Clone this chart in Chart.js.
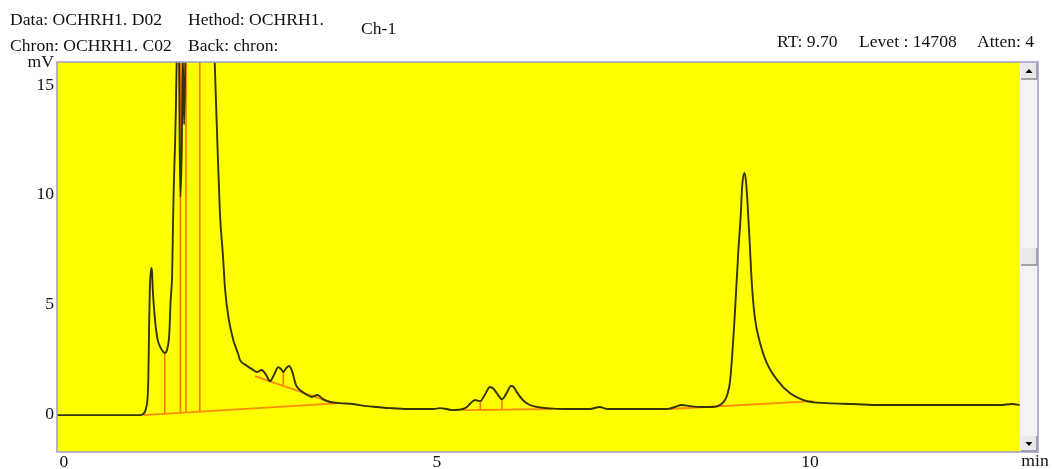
<!DOCTYPE html>
<html>
<head>
<meta charset="utf-8">
<script src="https://cdn.jsdelivr.net/npm/chart.js@4"></script>
<style>
  html, body { margin: 0; padding: 0; background: #fff; }
</style>
</head>
<body>
<canvas id="chrom" width="1052" height="469"></canvas>
<script>
// Detector trace (time in min, signal in mV)
const traceTime = [
  -0.09, 0.5, 1.02, 1.06, 1.10, 1.13, 1.14, 1.15, 1.17, 1.18, 1.19, 1.22, 1.25, 1.29,
  1.33, 1.35, 1.38, 1.41, 1.43, 1.45, 1.46, 1.47, 1.49, 1.50, 1.51, 1.53, 1.54, 1.55,
  1.56, 1.58, 1.59, 1.61, 1.63, 1.70, 1.82, 1.95, 1.99, 2.02, 2.05, 2.09, 2.13, 2.16,
  2.21, 2.27, 2.33, 2.36, 2.44, 2.52, 2.59, 2.65, 2.71, 2.76, 2.82, 2.87, 2.91, 2.94,
  2.98, 3.02, 3.06, 3.11, 3.18, 3.24, 3.32, 3.40, 3.47, 3.57, 3.70, 3.87, 4.06, 4.20,
  4.37, 4.60, 4.77, 4.95, 5.04, 5.13, 5.21, 5.35, 5.40, 5.44, 5.51, 5.58, 5.64, 5.71,
  5.76, 5.80, 5.87, 5.94, 5.99, 6.03, 6.07, 6.15, 6.22, 6.29, 6.47, 6.74, 7.05, 7.18,
  7.29, 7.72, 8.08, 8.19, 8.28, 8.39, 8.53, 8.69, 8.79, 8.85, 8.89, 8.93, 8.99, 9.04,
  9.07, 9.09, 9.12, 9.14, 9.16, 9.19, 9.22, 9.26, 9.33, 9.42, 9.56, 9.73,
  9.96, 10.23, 10.58, 10.94, 11.74, 12.55, 12.71, 12.81
];
const traceMv = [
  -0.05, -0.05, -0.05, 0.00, 0.27, 1.55, 3.83, 5.65, 6.66, 6.48, 5.65, 4.29, 3.47, 3.06,
  2.83, 2.78, 2.92, 3.60, 5.20, 6.43, 8.39, 10.21, 12.49, 14.0, 16.05, 18.0, 17.5, 12.5,
  9.9, 12.5, 16.5, 13.2, 17.0, 30.0, 20.0, 30.0, 20.0, 16.05, 12.95, 9.17, 7.25, 5.65,
  4.29, 3.37, 2.78, 2.46, 2.23, 2.05, 1.92, 2.01, 1.78, 1.50, 1.82, 2.14, 2.05, 1.92,
  2.10, 2.19, 1.92, 1.32, 1.05, 0.91, 0.78, 0.87, 0.68, 0.55, 0.50, 0.46, 0.36, 0.32,
  0.27, 0.23, 0.23, 0.23, 0.27, 0.23, 0.18, 0.23, 0.32, 0.46, 0.64, 0.59, 0.87, 1.23,
  1.14, 0.96, 0.68, 1.00, 1.28, 1.23, 1.00, 0.64, 0.46, 0.36, 0.27, 0.23, 0.23, 0.32,
  0.23, 0.23, 0.23, 0.32, 0.41, 0.36, 0.32, 0.32, 0.41, 0.59, 0.87, 1.55, 4.42, 7.48,
  8.98, 10.35, 10.99, 10.67, 9.76, 7.93, 5.97, 4.42, 3.24, 2.33, 1.55, 0.96,
  0.59, 0.50, 0.46, 0.41, 0.41, 0.41, 0.46, 0.41
];

// Integration baselines: start/end time and level
const baseStartTime = [1.06, 2.56, 5.35, 8.12];
const baseStartMv   = [-0.05, 1.73, 0.18, 0.23];
const baseEndTime   = [3.70, 3.61, 6.55, 10.04];
const baseEndMv     = [0.50, 0.50, 0.23, 0.59];

// Peak drop lines
const dropTime   = [1.35, 1.56, 1.635, 1.82, 2.94, 5.58, 5.87];
const dropTopMv  = [2.78, 16.1, 16.1, 16.1, 1.92, 0.59, 0.68];
const dropBaseMv = [0.01, 0.05, 0.07, 0.11, 1.29, 0.20, 0.21];

const xTicks = [0, 5, 10];
const yTicks = [0, 5, 10, 15];

const header = [
  ['Data: OCHRH1. D02', 10, 20],
  ['Chron: OCHRH1. C02', 10, 46],
  ['Hethod: OCHRH1.', 188, 20],
  ['Back: chron:', 188, 46],
  ['Ch-1', 361, 29],
  ['RT: 9.70', 777, 42],
  ['Levet : 14708', 859, 42],
  ['Atten: 4', 977, 42]
];

const FONT = '"Liberation Serif", "Times New Roman", serif';

// build segment lists, null breaks the line between pieces
const traceData = traceTime.map((t, i) => ({x: t, y: traceMv[i]}));
const baseData = [];
baseStartTime.forEach((t, i) => {
  baseData.push({x: t, y: baseStartMv[i]}, {x: baseEndTime[i], y: baseEndMv[i]}, {x: baseEndTime[i], y: null});
});
const dropData = [];
dropTime.forEach((t, i) => {
  dropData.push({x: t, y: dropBaseMv[i]}, {x: t, y: dropTopMv[i]}, {x: t, y: null});
});

const decorations = {
  id: 'decorations',
  beforeDraw(chart) {
    const {ctx, chartArea: a} = chart;
    ctx.save();
    ctx.fillStyle = '#ffff00';
    ctx.fillRect(a.left, a.top, a.right - a.left, a.bottom - a.top);
    ctx.restore();
  },
  afterDraw(chart) {
    const {ctx, chartArea: a} = chart;
    const sbL = a.right, sbR = a.right + 18;
    ctx.save();

    // scrollbar
    ctx.fillStyle = '#f3f3f3';
    ctx.fillRect(sbL, a.top, sbR - sbL, a.bottom - a.top);
    const button = (y0, y1) => {
      ctx.fillStyle = '#e9e9e9';
      ctx.fillRect(sbL + 1, y0, sbR - sbL - 2, y1 - y0);
      ctx.strokeStyle = '#8a8a8a';
      ctx.lineWidth = 1.5;
      ctx.beginPath();
      ctx.moveTo(sbL + 1, y1);
      ctx.lineTo(sbR - 1, y1);
      ctx.lineTo(sbR - 1, y0);
      ctx.stroke();
    };
    button(a.top + 1, a.top + 17);
    button(248, 265);
    button(a.bottom - 16, a.bottom - 1);
    const cx = (sbL + sbR) / 2;
    ctx.fillStyle = '#000';
    ctx.beginPath();
    ctx.moveTo(cx - 3.5, a.top + 11); ctx.lineTo(cx + 3.5, a.top + 11); ctx.lineTo(cx, a.top + 7);
    ctx.fill();
    ctx.beginPath();
    ctx.moveTo(cx - 3.5, a.bottom - 10); ctx.lineTo(cx + 3.5, a.bottom - 10); ctx.lineTo(cx, a.bottom - 6);
    ctx.fill();

    // frame
    ctx.strokeStyle = '#9c9ccc';
    ctx.lineWidth = 1.5;
    ctx.strokeRect(a.left, a.top, sbR - a.left, a.bottom - a.top);

    // texts
    ctx.fillStyle = '#111';
    ctx.font = '17.6px ' + FONT;
    ctx.textBaseline = 'middle';
    ctx.textAlign = 'left';
    header.forEach(([txt, x, y]) => ctx.fillText(txt, x, y));
    ctx.textAlign = 'right';
    ctx.fillText('mV', 54, 62);
    ctx.textAlign = 'center';
    ctx.fillText('min', 1035, 461);
    ctx.restore();
  }
};

new Chart(document.getElementById('chrom'), {
  type: 'line',
  data: {
    datasets: [
      {
        data: dropData,
        borderColor: '#ff7400',
        borderWidth: 1.6,
        pointRadius: 0,
        spanGaps: false,
        order: 2
      },
      {
        data: baseData,
        borderColor: '#ff8a00',
        borderWidth: 1.8,
        pointRadius: 0,
        spanGaps: false,
        order: 1
      },
      {
        data: traceData,
        borderColor: '#34340a',
        borderWidth: 1.9,
        pointRadius: 0,
        cubicInterpolationMode: 'monotone',
        order: 0
      }
    ]
  },
  options: {
    responsive: false,
    animation: false,
    events: [],
    layout: { padding: { top: 62, right: 32, left: 0, bottom: 0 } },
    plugins: { legend: { display: false }, tooltip: { enabled: false } },
    scales: {
      x: {
        type: 'linear',
        min: -0.094,
        max: 12.815,
        grid: { display: false, drawTicks: false },
        border: { display: false },
        afterFit: s => { s.height = 17; },
        afterBuildTicks: s => { s.ticks = xTicks.map(v => ({value: v})); },
        ticks: { color: '#111', padding: 0, maxRotation: 0, font: { family: FONT, size: 17.6 } }
      },
      y: {
        min: -1.73,
        max: 16.05,
        grid: { display: false, drawTicks: false },
        border: { display: false },
        afterFit: s => { s.width = 57; },
        afterBuildTicks: s => { s.ticks = yTicks.map(v => ({value: v})); },
        ticks: { color: '#111', padding: 3, font: { family: FONT, size: 17.6 } }
      }
    }
  },
  plugins: [decorations]
});
</script>
</body>
</html>
